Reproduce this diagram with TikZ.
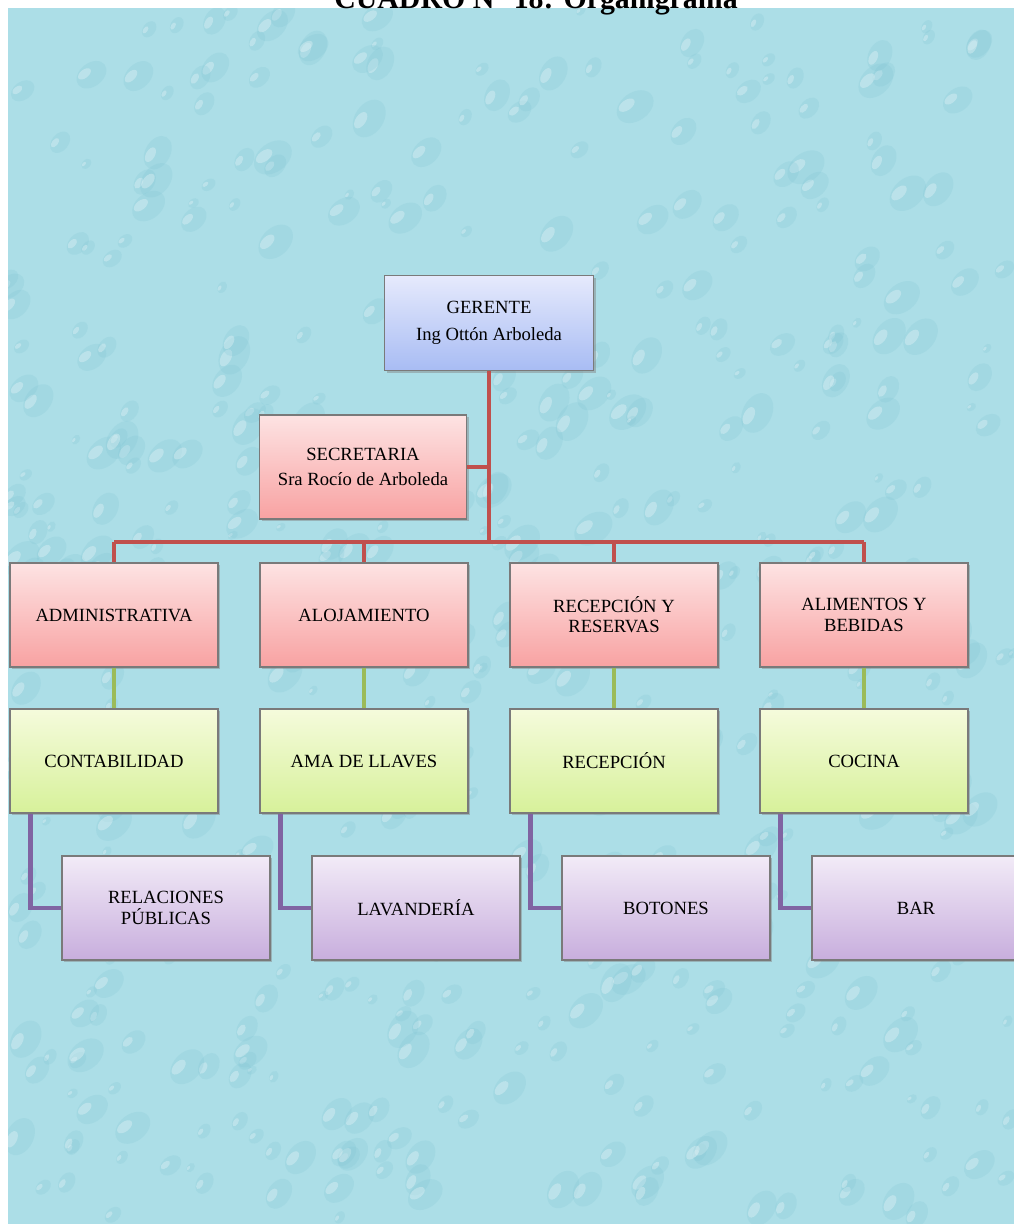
\documentclass[tikz,border=0pt]{standalone}
\usepackage{fontspec}
\setmainfont{Liberation Serif}
\usetikzlibrary{shadows}
\definecolor{agua}{HTML}{ACDEE7}
\definecolor{aguaosc}{HTML}{7FC5D4}
\definecolor{rojolinea}{HTML}{C0504D}
\definecolor{verdelinea}{HTML}{9BBB59}
\definecolor{moradolinea}{HTML}{8064A2}
\definecolor{azularriba}{HTML}{E6EAFC}
\definecolor{azulabajo}{HTML}{A8BCF4}
\definecolor{rojoarriba}{HTML}{FDE3E3}
\definecolor{rojoabajo}{HTML}{F8A2A2}
\definecolor{verdearriba}{HTML}{F5FBDC}
\definecolor{verdeabajo}{HTML}{D7F19A}
\definecolor{moradoarriba}{HTML}{F2EBF7}
\definecolor{moradoabajo}{HTML}{C8AEDD}
\definecolor{bordecaja}{HTML}{7A7A7A}

\begin{document}
\begin{tikzpicture}[
  x=0.02cm, y=-0.02cm,
  caja/.style={draw=bordecaja, line width=0.8pt, align=center,
    minimum width=4.16cm, minimum height=2.08cm,
    font=\fontsize{10.6}{11.5}\selectfont,
    drop shadow={shadow xshift=1.2pt, shadow yshift=-1.4pt, opacity=0.45}},
  azul/.style={caja, top color=azularriba, bottom color=azulabajo},
  rojo/.style={caja, top color=rojoarriba, bottom color=rojoabajo},
  verde/.style={caja, top color=verdearriba, bottom color=verdeabajo},
  morado/.style={caja, top color=moradoarriba, bottom color=moradoabajo},
  lineaRoja/.style={rojolinea, line width=2.8pt},
  lineaVerde/.style={verdelinea, line width=2.8pt},
  lineaMorada/.style={moradolinea, line width=2.6pt}
]
\useasboundingbox (0,0) rectangle (1014,1224);

% ── Fondo de gotas de agua ──
\begin{scope}
  \clip (8,8) rectangle (1014,1224);
  \fill[agua] (8,8) rectangle (1014,1224);
  \pgfmathsetseed{18}
  \foreach \i in {1,...,520} {
    \pgfmathsetmacro{\px}{8+1006*rnd}
    \pgfmathsetmacro{\py}{8+1216*rnd}
    \pgfmathsetmacro{\rx}{5+16*rnd}
    \pgfmathsetmacro{\ang}{35+30*rnd}
    \fill[aguaosc, opacity=0.22, rotate around={\ang:(\px,\py)}]
      (\px,\py) ellipse[x radius=\rx, y radius=0.7*\rx];
    \fill[white, opacity=0.28, rotate around={\ang:(\px,\py)}]
      (\px-0.3*\rx,\py-0.3*\rx) ellipse[x radius=0.45*\rx, y radius=0.25*\rx];
  }
\end{scope}

% ── Titulo ──
\begin{scope}
  \clip (0,0) rectangle (1014,1224);
  \node[font=\fontsize{17}{20}\selectfont\bfseries, anchor=base]
    (titulo) at (536,8) {CUADRO N° 18: Organigrama};
\end{scope}

% ── Gerencia ──
\node[azul, minimum width=4.18cm, minimum height=1.9cm,
  font=\fontsize{10.6}{15}\selectfont] (gerente) at (489,323)
  {GERENTE\\Ing Ottón Arboleda};
\node[rojo, minimum width=4.14cm, font=\fontsize{10.6}{14.5}\selectfont]
  (secretaria) at (363,467) {SECRETARIA\\Sra Rocío de Arboleda};

% ── Departamentos ──
\node[rojo] (administrativa) at (114,615) {ADMINISTRATIVA};
\node[rojo] (alojamiento) at (364,615) {ALOJAMIENTO};
\node[rojo] (recepreservas) at (614,615) {RECEPCIÓN Y\\RESERVAS};
\node[rojo] (alimentos) at (864,615) {ALIMENTOS Y\\BEBIDAS};

% ── Secciones ──
\node[verde] (contabilidad) at (114,761) {CONTABILIDAD};
\node[verde] (amallaves) at (364,761) {AMA DE LLAVES};
\node[verde] (recepcion) at (614,761) {RECEPCIÓN};
\node[verde] (cocina) at (864,761) {COCINA};

% ── Subsecciones ──
\node[morado] (relaciones) at (166,908) {RELACIONES\\PÚBLICAS};
\node[morado] (lavanderia) at (416,908) {LAVANDERÍA};
\node[morado] (botones) at (666,908) {BOTONES};
\node[morado] (bar) at (916,908) {BAR};

% ── Lineas rojas ──
\coordinate (bus) at (489,542);
\draw[lineaRoja] (gerente.south) -- (bus);
\draw[lineaRoja] (secretaria.east) -- (secretaria.east -| bus);
\draw[lineaRoja] (administrativa.north |- bus) -- (alimentos.north |- bus);
\foreach \n in {administrativa, alojamiento, recepreservas, alimentos} {
  \draw[lineaRoja] (\n.north |- bus) -- (\n.north);
}

% ── Lineas verdes ──
\foreach \a/\b in {administrativa/contabilidad, alojamiento/amallaves,
    recepreservas/recepcion, alimentos/cocina} {
  \draw[lineaVerde] (\a.south) -- (\b.north);
}

% ── Lineas moradas ──
\foreach \a/\b in {contabilidad/relaciones, amallaves/lavanderia,
    recepcion/botones, cocina/bar} {
  \draw[lineaMorada] ([xshift=0.42cm]\a.south west) |- (\b.west);
}

\end{tikzpicture}
\end{document}
